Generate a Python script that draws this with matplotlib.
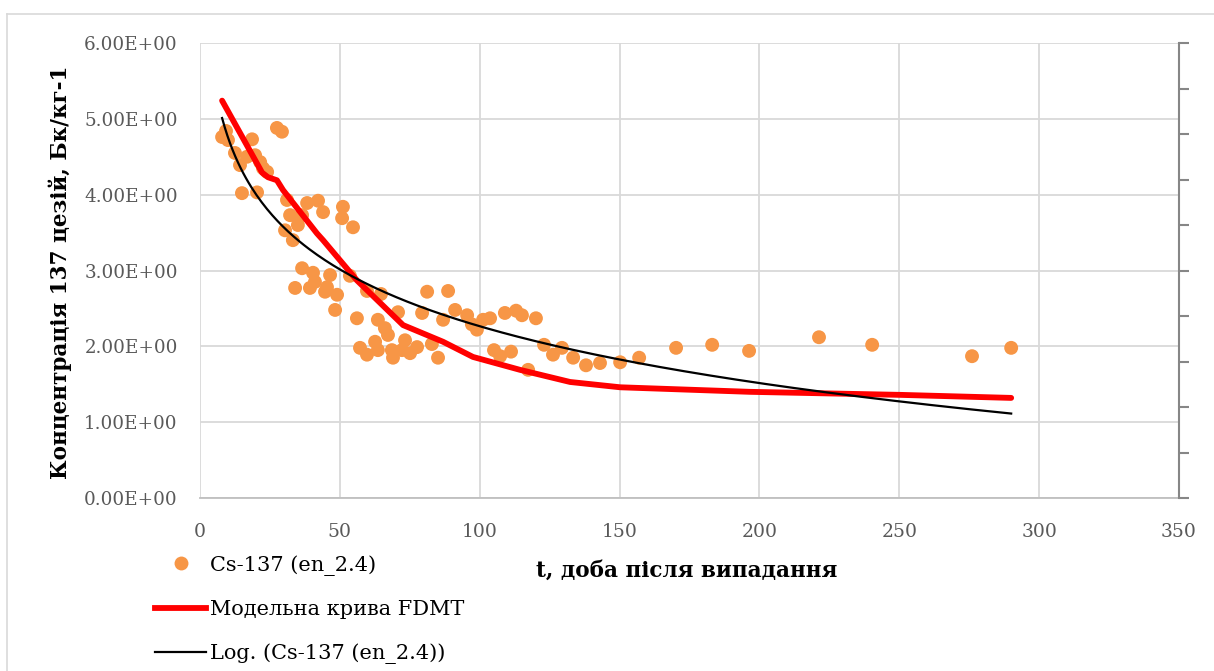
import numpy as np
import matplotlib
matplotlib.use("Agg")
import matplotlib.pyplot as plt
from matplotlib.lines import Line2D

plt.rcParams['font.family'] = ['DejaVu Serif']

# Measured Cs-137 concentration (days after fallout, Bq/kg)
t_days = [7.9, 10.0, 9.3, 12.5, 14.3, 16.8, 18.6, 19.7, 21.5, 22.5, 24.0, 15.0, 20.4,
          27.5, 29.3, 31.1, 38.3, 42.2, 44.0, 32.2, 36.5, 35.0, 30.4, 33.2, 51.1, 50.8,
          54.7, 36.5, 40.4, 46.5, 53.6, 34.0, 39.3, 41.1, 44.7, 45.4, 49.0, 59.7, 64.7,
          48.3, 56.1, 63.6, 66.1, 67.2, 70.8, 79.4, 81.2, 88.7, 86.9, 91.2, 95.5, 97.2,
          99.0, 101.2, 103.7, 109.0, 113.0, 115.1, 120.1, 57.2, 59.7, 62.6, 63.6, 68.6,
          69.0, 73.3, 72.2, 75.1, 77.6, 82.9, 85.1, 105.1, 107.3, 111.2, 117.3, 123.0,
          126.2, 129.4, 133.4, 138.0, 143.0, 150.2, 157.0, 170.2, 183.1, 196.3, 221.3,
          240.3, 276.0, 290.0]
cs137 = [4.76, 4.72, 4.84, 4.55, 4.39, 4.50, 4.73, 4.52, 4.43, 4.35, 4.30, 4.02, 4.03,
         4.88, 4.83, 3.93, 3.89, 3.92, 3.77, 3.73, 3.73, 3.60, 3.53, 3.40, 3.84, 3.69,
         3.57, 3.03, 2.97, 2.94, 2.93, 2.77, 2.77, 2.85, 2.72, 2.78, 2.68, 2.73, 2.69,
         2.48, 2.37, 2.35, 2.24, 2.15, 2.45, 2.44, 2.72, 2.73, 2.35, 2.48, 2.41, 2.29,
         2.22, 2.35, 2.37, 2.44, 2.47, 2.41, 2.37, 1.98, 1.89, 2.06, 1.95, 1.95,
         1.85, 2.08, 1.95, 1.91, 1.99, 2.03, 1.85, 1.95, 1.87, 1.93, 1.69, 2.02,
         1.89, 1.98, 1.85, 1.75, 1.78, 1.79, 1.85, 1.98, 2.02, 1.94, 2.12,
         2.02, 1.87, 1.98]

# FDMT model curve
t_model = [7.9, 22.2, 24.3, 27.5, 29.7, 41.8, 44.0, 56.1, 72.6, 86.9, 97.6, 114.4,
           132.3, 150.2, 196.6, 250.3, 290.0]
c_model = [5.24, 4.29, 4.23, 4.19, 4.06, 3.49, 3.40, 2.87, 2.28, 2.06, 1.86, 1.69,
           1.53, 1.46, 1.40, 1.36, 1.32]

x_ticks = [0, 50, 100, 150, 200, 250, 300, 350]
y_ticks = [0, 1, 2, 3, 4, 5, 6]

W, H = 1214, 671
fig = plt.figure(figsize=(W / 100, H / 100), dpi=100)
fig.patch.set_facecolor('white')

# chart frame
frame_col = '#D9D9D9'
fig.add_artist(Line2D([7 / W, 7 / W], [0, 1 - 14 / H], color=frame_col, lw=1.2,
                      transform=fig.transFigure))
fig.add_artist(Line2D([7 / W, 1], [1 - 14 / H, 1 - 14 / H], color=frame_col, lw=1.2,
                      transform=fig.transFigure))

ax = fig.add_axes([200 / W, 173 / H, 979 / W, 455 / H])
ax.set_xlim(0, 350)
ax.set_ylim(0, 6)
ax.set_xticks(x_ticks)
ax.set_yticks(y_ticks)
ax.set_yticklabels([f"{v:.2f}E+00" for v in y_ticks])
ax.grid(True, color='#D9D9D9', lw=1.3)
ax.set_axisbelow(True)
for s in ['top', 'left', 'right']:
    ax.spines[s].set_visible(False)
ax.spines['bottom'].set_color('#BFBFBF')
ax.spines['bottom'].set_linewidth(1.3)
ax.tick_params(axis='both', length=0, colors='#595959')
ax.tick_params(axis='y', pad=16, labelsize=13.2)
ax.tick_params(axis='x', pad=18, labelsize=13.5)

orange = '#F79646'
ax.scatter(t_days, cs137, s=100, color=orange, edgecolors='none', zorder=3)
ax.plot(t_model, c_model, color='#FF0000', lw=4.2, solid_capstyle='round',
        solid_joinstyle='round', zorder=4)

# logarithmic trend line fitted to the measurements
a, b = np.polyfit(np.log(t_days), cs137, 1)
tt = np.linspace(min(t_days), max(t_days), 300)
ax.plot(tt, a * np.log(tt) + b, color='black', lw=1.6, zorder=5)

# secondary axis on the right (ticks only)
ax2 = ax.twinx()
ax2.set_ylim(0, 6)
ax2.set_yticks(np.linspace(0, 6, 11))
ax2.tick_params(axis='y', direction='out', length=7, width=1.5, color='#868686',
                labelright=False)
for s in ['top', 'left', 'bottom']:
    ax2.spines[s].set_visible(False)
ax2.spines['right'].set_color('#868686')
ax2.spines['right'].set_linewidth(1.5)

fig.text(60 / W, 1 - 272 / H, 'Концентрація 137 цезій, Бк/кг-1', rotation=90,
         ha='center', va='center', fontsize=15.5, fontweight='bold', color='black')
fig.text(687 / W, 1 - 571 / H, 't, доба після випадання', ha='center', va='center',
         fontsize=15.5, fontweight='bold', color='black')

handles = [
    Line2D([], [], ls='none', marker='o', markersize=10, color=orange, markeredgewidth=0),
    Line2D([], [], color='#FF0000', lw=4.2),
    Line2D([], [], color='black', lw=1.6),
]
labels = ['Cs-137 (en_2.4)', 'Модельна крива FDMT', 'Log. (Cs-137 (en_2.4))']
fig.legend(handles, labels, loc='upper left', bbox_to_anchor=(155 / W, 1 - 555 / H),
           frameon=False, fontsize=15, handlelength=2.45, handletextpad=0.2,
           labelspacing=1.17, borderpad=0, borderaxespad=0, labelcolor='black')

fig.savefig('out.png', dpi=100)
